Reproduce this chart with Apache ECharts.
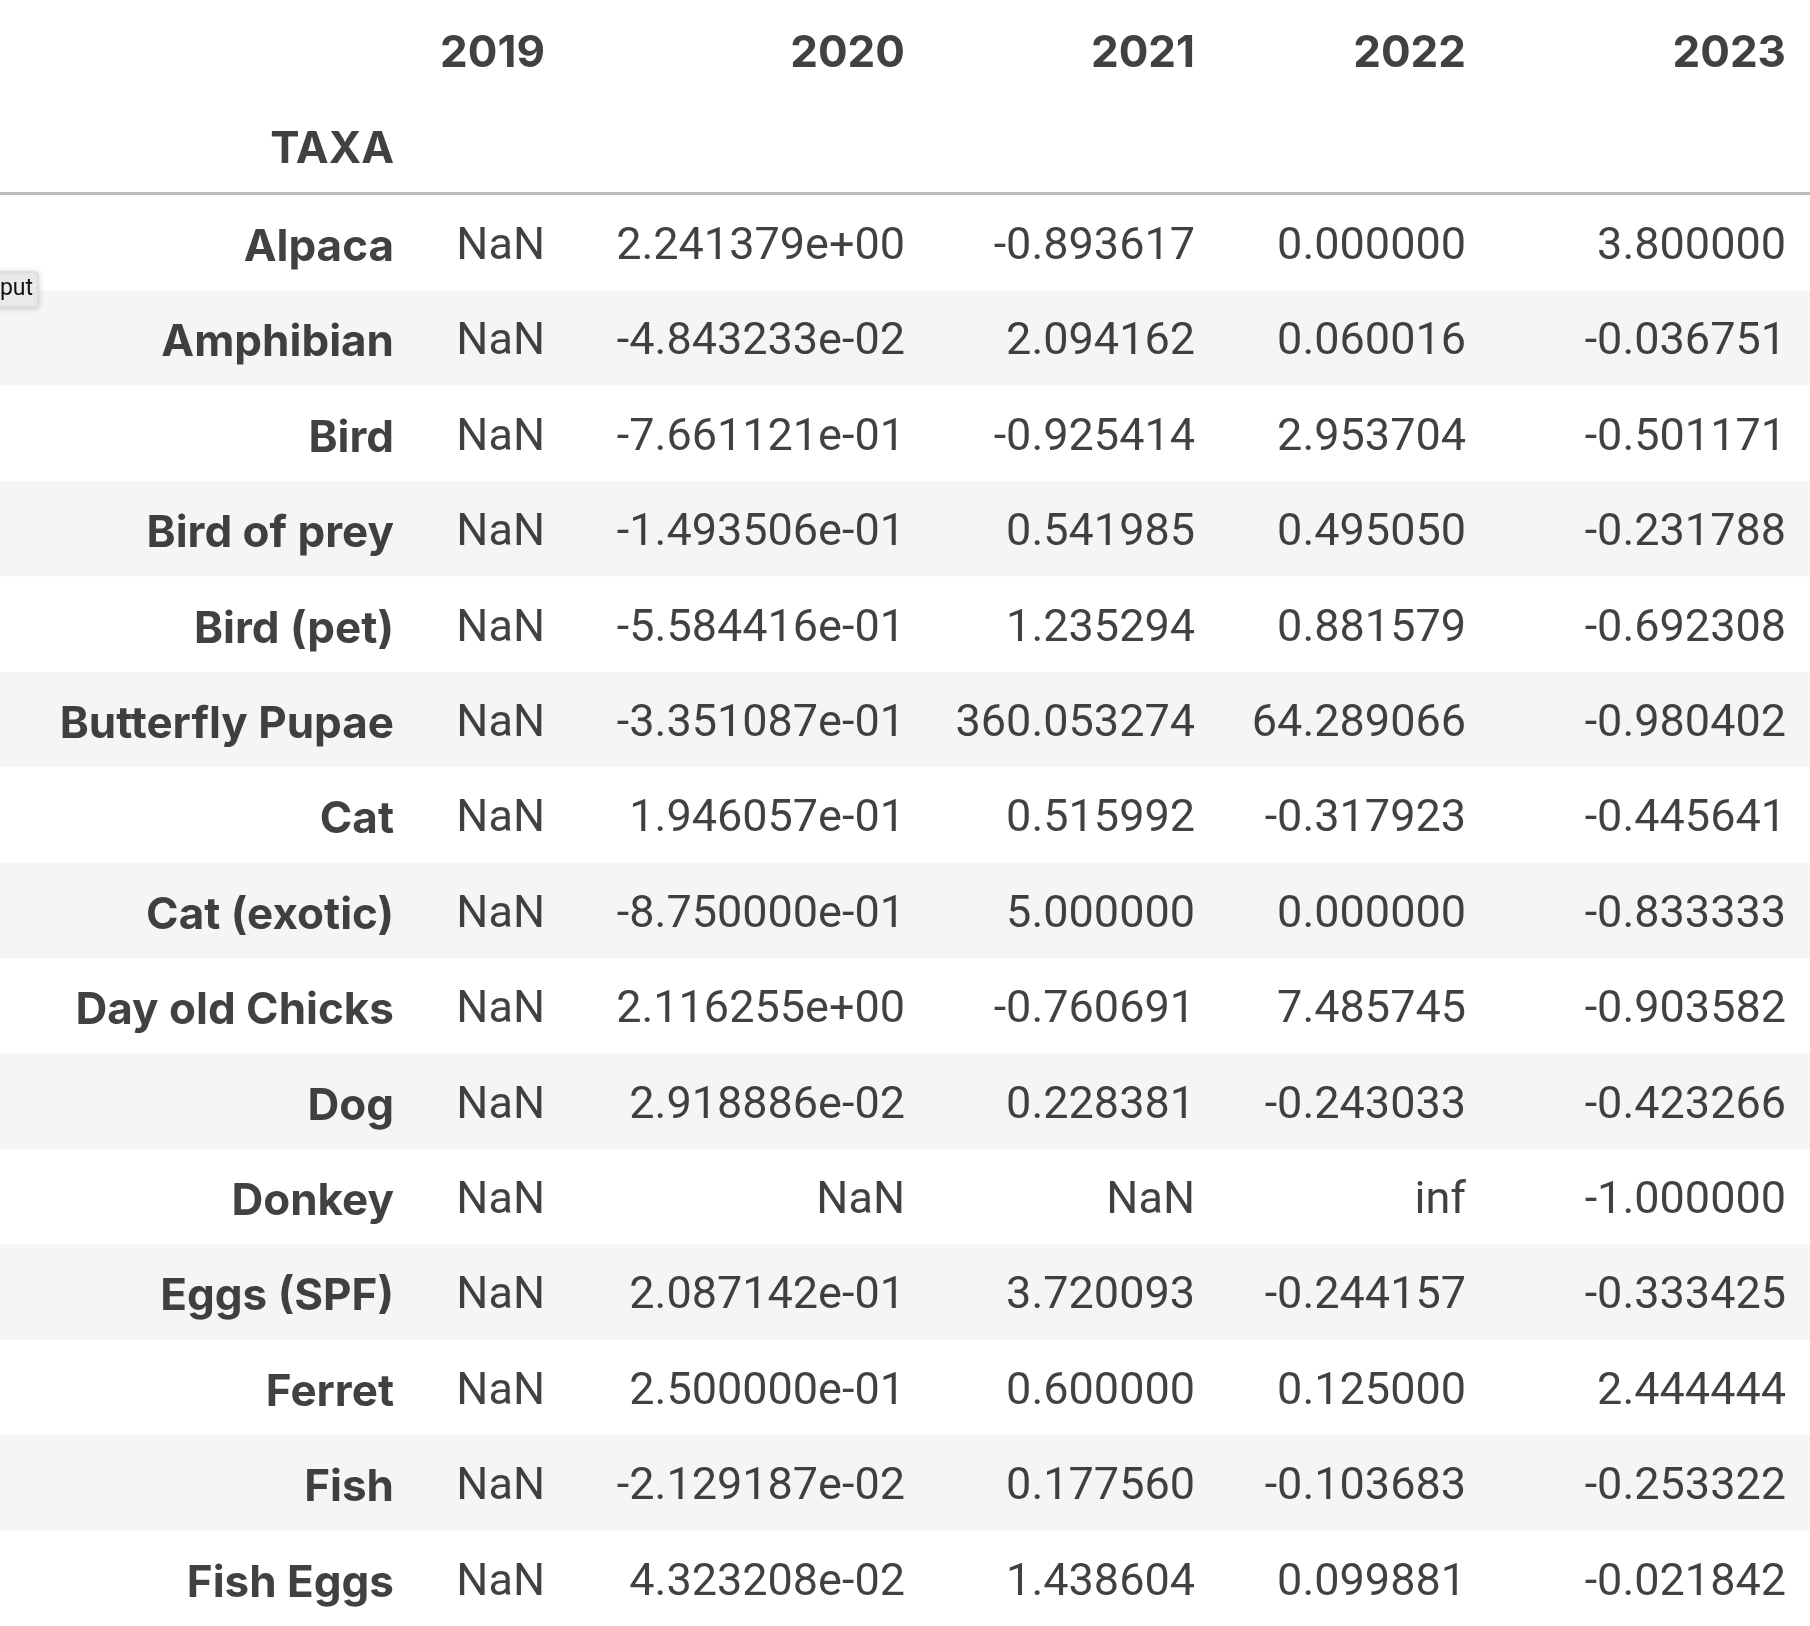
<!DOCTYPE html>
<html>
<head>
<meta charset="utf-8">
<title>TAXA table</title>
<script src="https://cdn.jsdelivr.net/npm/echarts@6.0.0/dist/echarts.min.js"></script>
<style>
  html, body { margin: 0; padding: 0; background: #fff; }
  #chart { width: 1810px; height: 1626px; }
</style>
</head>
<body>
<div id="chart"></div>
<script>
const indexName = 'TAXA';
const years = ['2019', '2020', '2021', '2022', '2023'];
const taxa = [
  'Alpaca', 'Amphibian', 'Bird', 'Bird of prey', 'Bird (pet)',
  'Butterfly Pupae', 'Cat', 'Cat (exotic)', 'Day old Chicks', 'Dog',
  'Donkey', 'Eggs (SPF)', 'Ferret', 'Fish', 'Fish Eggs'
];
const v2019 = [
  'NaN', 'NaN', 'NaN', 'NaN', 'NaN', 'NaN', 'NaN', 'NaN',
  'NaN', 'NaN', 'NaN', 'NaN', 'NaN', 'NaN', 'NaN'
];
const v2020 = [
  '2.241379e+00', '-4.843233e-02', '-7.661121e-01', '-1.493506e-01', '-5.584416e-01',
  '-3.351087e-01', '1.946057e-01', '-8.750000e-01', '2.116255e+00', '2.918886e-02',
  'NaN', '2.087142e-01', '2.500000e-01', '-2.129187e-02', '4.323208e-02'
];
const v2021 = [
  '-0.893617', '2.094162', '-0.925414', '0.541985', '1.235294',
  '360.053274', '0.515992', '5.000000', '-0.760691', '0.228381',
  'NaN', '3.720093', '0.600000', '0.177560', '1.438604'
];
const v2022 = [
  '0.000000', '0.060016', '2.953704', '0.495050', '0.881579',
  '64.289066', '-0.317923', '0.000000', '7.485745', '-0.243033',
  'inf', '-0.244157', '0.125000', '-0.103683', '0.099881'
];
const v2023 = [
  '3.800000', '-0.036751', '-0.501171', '-0.231788', '-0.692308',
  '-0.980402', '-0.445641', '-0.833333', '-0.903582', '-0.423266',
  '-1.000000', '-0.333425', '2.444444', '-0.253322', '-0.021842'
];
const columns = [v2019, v2020, v2021, v2022, v2023];

// layout: right edge of the text in each column (index column first), pixels
const COL_RIGHT = [394, 545, 905, 1195, 1466, 1786];
const HEADER_ROWS = ['years', 'index'];
const FONT = 'Roboto, "Noto Sans", sans-serif';
const BOLD_FONT = 'Inter, Roboto, sans-serif';
const TEXT_COLOR = '#111111';

const chart = echarts.init(document.getElementById('chart'));

function textSeries(gridIdx, points, bold) {
  return {
    type: 'scatter',
    xAxisIndex: gridIdx,
    yAxisIndex: gridIdx,
    symbolSize: 0,
    silent: true,
    animation: false,
    data: points.map(p => ({ value: [p.x, p.row], text: p.text })),
    label: {
      show: true,
      position: 'left',
      distance: 0,
      offset: [0, 5],
      formatter: params => params.data.text,
      fontFamily: bold ? BOLD_FONT : FONT,
      fontSize: bold ? 44 : 45,
      fontWeight: bold ? 700 : 400,
      color: TEXT_COLOR
    },
    emphasis: { disabled: true }
  };
}

const headerPoints = years.map((y, i) => ({ x: COL_RIGHT[i + 1], row: 'years', text: y }));
headerPoints.push({ x: COL_RIGHT[0], row: 'index', text: indexName });

const indexPoints = taxa.map(t => ({ x: COL_RIGHT[0], row: t, text: t }));
const cellPoints = [];
columns.forEach((col, c) => {
  col.forEach((val, r) => {
    cellPoints.push({ x: COL_RIGHT[c + 1], row: taxa[r], text: val });
  });
});

const hiddenValueAxis = (gridIndex, showLine) => ({
  type: 'value',
  gridIndex: gridIndex,
  min: 0,
  max: 1810,
  position: 'bottom',
  axisLine: { show: showLine, lineStyle: { color: '#bdbdbd', width: 3 } },
  axisTick: { show: false },
  axisLabel: { show: false },
  splitLine: { show: false }
});

const option = {
  backgroundColor: '#ffffff',
  animation: false,
  grid: [
    { left: 0, right: 0, top: 0, height: 193.5 },
    { left: 0, right: 0, top: 195, bottom: 0 }
  ],
  xAxis: [hiddenValueAxis(0, true), hiddenValueAxis(1, false)],
  yAxis: [
    {
      type: 'category',
      gridIndex: 0,
      inverse: true,
      data: HEADER_ROWS,
      axisLine: { show: false },
      axisTick: { show: false },
      axisLabel: { show: false },
      splitLine: { show: false }
    },
    {
      type: 'category',
      gridIndex: 1,
      inverse: true,
      data: taxa,
      axisLine: { show: false },
      axisTick: { show: false },
      axisLabel: { show: false },
      splitLine: { show: false },
      splitArea: { show: true, areaStyle: { color: ['#ffffff', '#f5f5f5'] } }
    }
  ],
  series: [
    textSeries(0, headerPoints, true),
    textSeries(1, indexPoints, true),
    textSeries(1, cellPoints, false)
  ],
  graphic: [
    {
      type: 'rect',
      x: 0,
      y: 272,
      z: 100,
      shape: { x: -12, y: 0, width: 50, height: 35, r: 2 },
      style: {
        fill: '#ebebeb',
        stroke: '#d6d6d6',
        lineWidth: 1,
        shadowBlur: 6,
        shadowColor: 'rgba(0,0,0,0.18)',
        shadowOffsetY: 1
      }
    },
    {
      type: 'text',
      x: 33,
      y: 289,
      z: 101,
      style: {
        text: 'put',
        align: 'right',
        verticalAlign: 'middle',
        fontFamily: FONT,
        fontSize: 23,
        fill: '#111111'
      }
    }
  ]
};

chart.setOption(option);
</script>
</body>
</html>
